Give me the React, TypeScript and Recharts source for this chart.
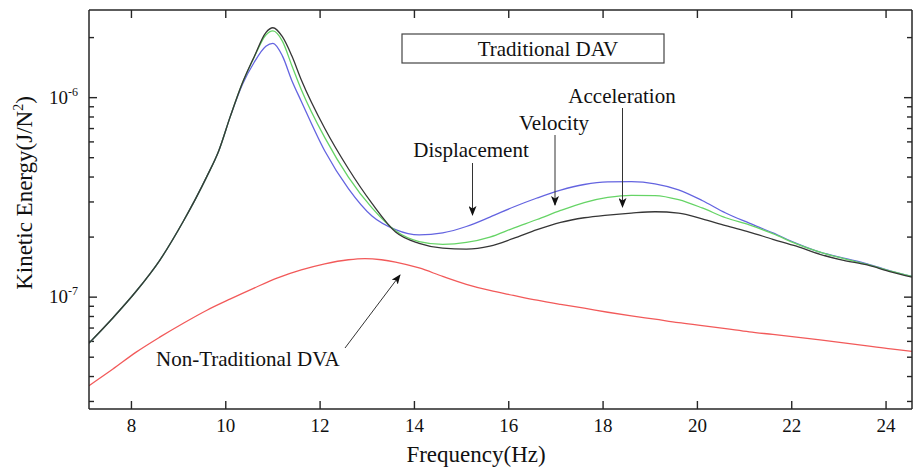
import React from 'react';
import { LineChart, Line, XAxis, YAxis, ReferenceLine } from 'recharts';

const FONT = "'Liberation Serif', 'Times New Roman', serif";
const AXIS = '#262626';

// frequency grid (Hz) for the three traditional DAV curves
const tradFreq = [
  7.1, 7.6, 8.1, 8.6, 9.1, 9.6, 9.85, 10.1, 10.35, 10.6, 10.85, 11.0, 11.2, 11.4, 11.6, 12.1, 12.6,
  13.1, 13.6, 14.1, 14.6, 15.1, 15.6, 16.1, 16.6, 17.1, 17.6, 18.1, 18.6, 19.1, 19.6, 20.1, 20.6,
  21.1, 21.6, 22.1, 22.6, 23.1, 23.6, 24.1, 24.55,
];

const displacement = [
  5.88e-8, 7.84e-8, 1.07e-7, 1.53e-7, 2.4e-7, 4.03e-7, 5.4e-7, 8.1e-7, 1.16e-6, 1.5e-6, 1.81e-6,
  1.87e-6, 1.62e-6, 1.22e-6, 9.6e-7, 5.4e-7, 3.5e-7, 2.55e-7, 2.18e-7, 2.05e-7, 2.1e-7, 2.26e-7,
  2.52e-7, 2.83e-7, 3.14e-7, 3.44e-7, 3.67e-7, 3.78e-7, 3.79e-7, 3.7e-7, 3.45e-7, 3.05e-7,
  2.64e-7, 2.35e-7, 2.1e-7, 1.86e-7, 1.68e-7, 1.57e-7, 1.47e-7, 1.35e-7, 1.27e-7,
];

const velocity = [
  5.88e-8, 7.84e-8, 1.07e-7, 1.53e-7, 2.4e-7, 4.03e-7, 5.4e-7, 8.1e-7, 1.18e-6, 1.59e-6, 2.06e-6,
  2.16e-6, 1.92e-6, 1.45e-6, 1.1e-6, 6.3e-7, 4.0e-7, 2.8e-7, 2.15e-7, 1.9e-7, 1.84e-7, 1.88e-7,
  2.0e-7, 2.22e-7, 2.45e-7, 2.72e-7, 2.98e-7, 3.16e-7, 3.24e-7, 3.23e-7, 3.08e-7, 2.8e-7, 2.5e-7,
  2.3e-7, 2.08e-7, 1.85e-7, 1.68e-7, 1.56e-7, 1.46e-7, 1.35e-7, 1.27e-7,
];

const acceleration = [
  5.88e-8, 7.84e-8, 1.07e-7, 1.53e-7, 2.4e-7, 4.03e-7, 5.4e-7, 8.1e-7, 1.18e-6, 1.6e-6, 2.12e-6,
  2.24e-6, 2.02e-6, 1.62e-6, 1.23e-6, 7.0e-7, 4.4e-7, 2.95e-7, 2.12e-7, 1.86e-7, 1.76e-7, 1.74e-7,
  1.8e-7, 1.97e-7, 2.18e-7, 2.37e-7, 2.5e-7, 2.58e-7, 2.64e-7, 2.68e-7, 2.64e-7, 2.47e-7, 2.28e-7,
  2.12e-7, 1.95e-7, 1.8e-7, 1.64e-7, 1.53e-7, 1.45e-7, 1.34e-7, 1.26e-7,
];

// non-traditional DVA
const dvaFreq = [
  7.1, 7.6, 8.1, 8.6, 9.1, 9.6, 10.1, 10.6, 11.1, 11.6, 12.1, 12.6, 12.95, 13.3, 13.6, 14.1, 14.6,
  15.1, 15.6, 16.1, 16.6, 17.1, 17.6, 18.1, 18.6, 19.1, 19.6, 20.1, 20.6, 21.1, 21.6, 22.1, 22.6,
  23.1, 23.6, 24.1, 24.55,
];

const nonTraditional = [
  3.6e-8, 4.35e-8, 5.3e-8, 6.3e-8, 7.4e-8, 8.6e-8, 9.8e-8, 1.11e-7, 1.25e-7, 1.37e-7, 1.47e-7,
  1.54e-7, 1.56e-7, 1.54e-7, 1.5e-7, 1.4e-7, 1.27e-7, 1.16e-7, 1.08e-7, 1.02e-7, 9.65e-8, 9.2e-8,
  8.8e-8, 8.4e-8, 8.05e-8, 7.75e-8, 7.45e-8, 7.2e-8, 6.95e-8, 6.7e-8, 6.5e-8, 6.3e-8, 6.1e-8,
  5.9e-8, 5.7e-8, 5.5e-8, 5.35e-8,
];

const xTicks = [8, 10, 12, 14, 16, 18, 20, 22, 24];
const yMajorTicks = [1e-7, 1e-6];
const yMinorTicks = [
  3e-8, 4e-8, 5e-8, 6e-8, 7e-8, 8e-8, 9e-8, 2e-7, 3e-7, 4e-7, 5e-7, 6e-7, 7e-7, 8e-7, 9e-7, 2e-6,
];

const X_DOMAIN: [number, number] = [7.1, 24.55];
const Y_DOMAIN: [number, number] = [2.75e-8, 2.75e-6];

// plot box is 823 x 399 px, used to turn tick lengths (px) into data units
const PX_PER_HZ = 823 / (X_DOMAIN[1] - X_DOMAIN[0]);
const PX_PER_DECADE = 399 / Math.log10(Y_DOMAIN[1] / Y_DOMAIN[0]);
const hzLen = (px: number) => px / PX_PER_HZ;
const decFactor = (px: number) => Math.pow(10, px / PX_PER_DECADE);

const rows = (freq: number[], vals: number[]) => freq.map((f, i) => ({ f, v: vals[i] }));

const dispData = rows(tradFreq, displacement);
const velData = rows(tradFreq, velocity);
const accData = rows(tradFreq, acceleration);
const dvaData = rows(dvaFreq, nonTraditional);

const yLabel = ({ x, y, payload }: any) => (
  <text x={x - 11} y={y + 6} textAnchor="end" fontFamily={FONT} fontSize={19} fill="#111">
    10
    <tspan dy={-8} fontSize={12}>
      {Math.round(Math.log10(payload.value))}
    </tspan>
  </text>
);

const xLabel = ({ x, y, payload }: any) => (
  <text x={x} y={y + 23} textAnchor="middle" fontFamily={FONT} fontSize={19} fill="#111">
    {payload.value}
  </text>
);

const axisLine = { stroke: AXIS, strokeWidth: 1.5 };

// inward tick marks on all four sides
const tickSegments: { x: number; y: number }[][] = [];
[...yMajorTicks.map((v) => [v, 8]), ...yMinorTicks.map((v) => [v, 5])].forEach(([v, px]) => {
  tickSegments.push([{ x: X_DOMAIN[0], y: v }, { x: X_DOMAIN[0] + hzLen(px), y: v }]);
  tickSegments.push([{ x: X_DOMAIN[1] - hzLen(px), y: v }, { x: X_DOMAIN[1], y: v }]);
});
xTicks.forEach((t) => {
  tickSegments.push([{ x: t, y: Y_DOMAIN[0] }, { x: t, y: Y_DOMAIN[0] * decFactor(8) }]);
  tickSegments.push([{ x: t, y: Y_DOMAIN[1] / decFactor(8) }, { x: t, y: Y_DOMAIN[1] }]);
});

function Annotations() {
  const t = { fontFamily: FONT, fontSize: 21, fill: '#111' };
  return (
    <svg
      width={917}
      height={469}
      style={{ position: 'absolute', left: 0, top: 0, pointerEvents: 'none' }}
    >
      <defs>
        <marker id="head" markerUnits="userSpaceOnUse" markerWidth={10} markerHeight={8} refX={9} refY={4} orient="auto">
          <path d="M0,0 L10,4 L0,8 L2.5,4 Z" fill="#111" />
        </marker>
      </defs>
      <rect x={402} y={34} width={262} height={29} fill="none" stroke="#444" strokeWidth={1.2} />
      <text x={548} y={56} textAnchor="middle" {...t}>Traditional DAV</text>
      <text x={622} y={103} textAnchor="middle" {...t}>Acceleration</text>
      <text x={554} y={130} textAnchor="middle" {...t}>Velocity</text>
      <text x={471} y={157} textAnchor="middle" {...t}>Displacement</text>
      <line x1={622.5} y1={108} x2={622.5} y2={207} stroke="#333" strokeWidth={1} markerEnd="url(#head)" />
      <line x1={555} y1={135} x2={555} y2={205} stroke="#333" strokeWidth={1} markerEnd="url(#head)" />
      <line x1={472.5} y1={163} x2={472.5} y2={215} stroke="#333" strokeWidth={1} markerEnd="url(#head)" />
      <text x={156} y={366} {...t}>Non-Traditional DVA</text>
      <line x1={345} y1={348} x2={400} y2={275} stroke="#333" strokeWidth={1} markerEnd="url(#head)" />
      <text x={476} y={462} textAnchor="middle" fontFamily={FONT} fontSize={23} fill="#111">
        Frequency(Hz)
      </text>
      <text
        x={0}
        y={0}
        transform="translate(32,193) rotate(-90)"
        textAnchor="middle"
        fontFamily={FONT}
        fontSize={23}
        fill="#111"
      >
        Kinetic Energy(J/N
        <tspan dy={-9} fontSize={14}>2</tspan>
        <tspan dy={9}>)</tspan>
      </text>
    </svg>
  );
}

const hidden = { dataKey: 'v', stroke: 'none', dot: false, isAnimationActive: false, legendType: 'none' as const };

export default function App() {
  return (
    <div style={{ position: 'absolute', left: 0, top: 0, width: 917, height: 469, background: '#fff' }}>
      <LineChart width={917} height={469} margin={{ top: 10, right: 5, bottom: 0, left: 0 }}>
        <XAxis
          xAxisId="b"
          dataKey="f"
          type="number"
          domain={X_DOMAIN}
          allowDataOverflow
          ticks={xTicks}
          interval={0}
          height={60}
          tickSize={0}
          tickMargin={0}
          tickLine={false}
          stroke={AXIS}
          axisLine={axisLine}
          tick={xLabel}
        />
        <YAxis
          yAxisId="l"
          type="number"
          scale="log"
          domain={Y_DOMAIN}
          allowDataOverflow
          ticks={yMajorTicks}
          interval={0}
          width={89}
          tickSize={0}
          tickMargin={0}
          tickLine={false}
          stroke={AXIS}
          axisLine={axisLine}
          tick={yLabel}
        />
        {/* top and right edges of the frame */}
        <XAxis xAxisId="tm" orientation="top" mirror dataKey="f" type="number" domain={X_DOMAIN} allowDataOverflow
          ticks={xTicks} interval={0} tick={false} tickLine={false} axisLine={axisLine} stroke={AXIS} />
        <YAxis yAxisId="rM" orientation="right" mirror type="number" scale="log" domain={Y_DOMAIN} allowDataOverflow
          ticks={yMajorTicks} interval={0} tick={false} tickLine={false} axisLine={axisLine} stroke={AXIS} />
        <Line xAxisId="tm" yAxisId="rM" data={dvaData} {...hidden} />

        {tickSegments.map((seg, i) => (
          <ReferenceLine
            key={i}
            xAxisId="b"
            yAxisId="l"
            segment={seg}
            stroke={AXIS}
            strokeWidth={1.4}
            ifOverflow="visible"
          />
        ))}

        <Line xAxisId="b" yAxisId="l" data={dvaData} dataKey="v" type="monotone" stroke="#f25a5a" strokeWidth={1.3} dot={false} isAnimationActive={false} />
        <Line xAxisId="b" yAxisId="l" data={dispData} dataKey="v" type="monotone" stroke="#6464e0" strokeWidth={1.3} dot={false} isAnimationActive={false} />
        <Line xAxisId="b" yAxisId="l" data={velData} dataKey="v" type="monotone" stroke="#66d466" strokeWidth={1.3} dot={false} isAnimationActive={false} />
        <Line xAxisId="b" yAxisId="l" data={accData} dataKey="v" type="monotone" stroke="#363636" strokeWidth={1.3} dot={false} isAnimationActive={false} />
      </LineChart>
      <Annotations />
    </div>
  );
}
